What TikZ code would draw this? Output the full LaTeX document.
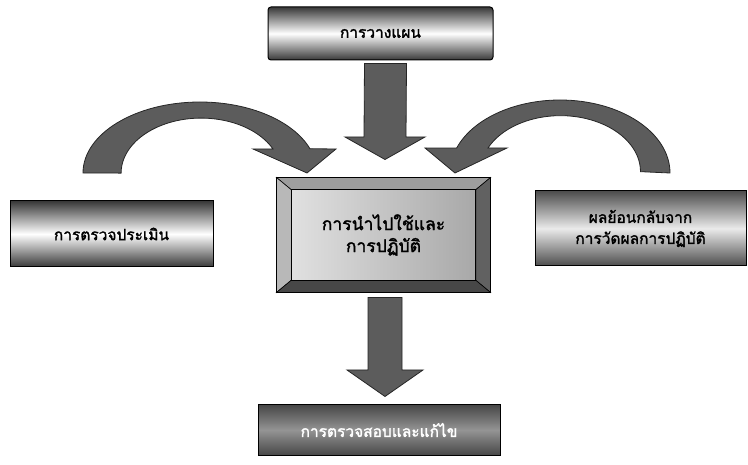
\documentclass[tikz,border=0pt]{standalone}
\usepackage{fontspec}
\newfontfamily\thaifont[Script=Thai, FakeBold=1.8]{Loma}
\usetikzlibrary{calc}

\begin{document}
\begin{tikzpicture}[x=1pt, y=-1pt,
		bandbox/.style={draw=black, line width=1pt, top color=black!78, bottom color=black!78, middle color=white,
			font=\thaifont\fontsize{15.5}{18}\selectfont, align=center, inner sep=0pt},
		darkbox/.style={draw=black, line width=1pt, top color=black!72, bottom color=black!72, middle color=black!42,
			text=white, font=\thaifont\fontsize{15.5}{18}\selectfont, align=center, inner sep=0pt},
		blockarrow/.style={draw=black!85, line width=0.8pt, fill=black!64, line join=miter},
		bevel/.style={draw=black, line width=0.6pt}]
	% Rahmen
	\useasboundingbox (0,0) rectangle (748,465);
	% Kaesten
	\node[bandbox, rounded corners=3pt, minimum width=225, minimum height=53] (plan) at (380.5,33.5) {การวางแผน};
	\node[bandbox, minimum width=203, minimum height=66] (check) at (111.5,234) {การตรวจประเมิน};
	\node[bandbox, top color=black!70, bottom color=black!70, middle color=black!8, minimum width=211, minimum height=75] (feedback) at (640.5,228.5) {ผลย้อนกลับจาก\\[3pt]การวัดผลการปฏิบัติ};
	\node[darkbox, minimum width=242, minimum height=50] (review) at (379,430) {การตรวจสอบและแก้ไข};
	% mittlerer Kasten mit Rahmen
	\node[draw=black, line width=1pt, fill=black!55, minimum width=213, minimum height=114, inner sep=0pt] (impl) at (383.5,235) {};
	\node[minimum width=184, minimum height=90, inner sep=0pt] (impltext) at (impl.center) {};
	\fill[bevel, fill=black!38] (impl.north west) -- (impl.north east) -- (impltext.north east) -- (impltext.north west) -- cycle;
	\fill[bevel, fill=black!28] (impl.north west) -- (impltext.north west) -- (impltext.south west) -- (impl.south west) -- cycle;
	\fill[bevel, fill=black!62] (impl.north east) -- (impl.south east) -- (impltext.south east) -- (impltext.north east) -- cycle;
	\fill[bevel, fill=black!72] (impl.south west) -- (impltext.south west) -- (impltext.south east) -- (impl.south east) -- cycle;
	\draw[bevel, left color=black!12, right color=black!34] (impltext.north west) rectangle (impltext.south east);
	\node[font=\thaifont\fontsize{17.5}{22}\selectfont, align=center] at (impltext.center) {การนำไปใช้และ\\การปฏิบัติ};
	\draw[line width=1pt] (impl.north west) rectangle (impl.south east);
	% gerade Pfeile
	\draw[blockarrow] ($(plan.south)+(-16,3)$) -- ($(plan.south)+(26,3)$) -- (406,137) -- (425,137)
		-- ($(impl.north)+(1.5,-18)$) -- (345,137) -- (364,137) -- cycle;
	\draw[blockarrow] ($(impl.south)+(-15.5,5)$) -- ($(impl.south)+(18.5,5)$) -- (402,370) -- (423,370)
		-- ($(review.north)+(6,-8)$) -- (347,370) -- (368,370) -- cycle;
	% gebogene Pfeile
	\draw[blockarrow] (83,173) arc[start angle=180, end angle=340, x radius=117, y radius=71]
		-- (336,149) -- (307,173) -- (253,149) -- (273,149)
		arc[start angle=334, end angle=180, x radius=80, y radius=55] -- cycle;
	\draw[blockarrow] (670,173) arc[start angle=0, end angle=-160, x radius=110, y radius=73]
		-- (425,148) -- (455,173) -- (507,148) -- (488,148)
		arc[start angle=205, end angle=360, x radius=80, y radius=56] -- cycle;
\end{tikzpicture}
\end{document}
